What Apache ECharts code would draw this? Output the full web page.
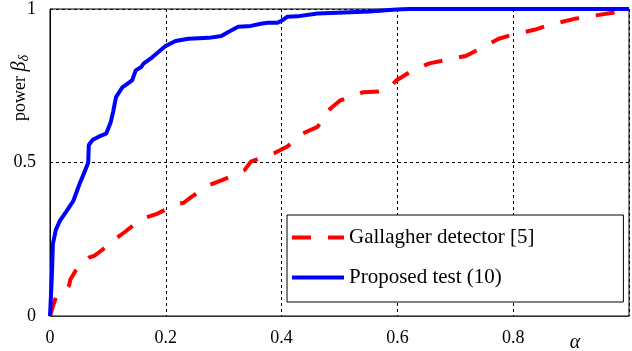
<!DOCTYPE html>
<html>
<head>
<meta charset="utf-8">
<script src="https://cdn.jsdelivr.net/npm/echarts@6/dist/echarts.min.js"></script>
<style>
  html, body { margin: 0; padding: 0; background: #fff; }
  #chart { width: 632px; height: 351px; }
</style>
</head>
<body>
<div id="chart"></div>
<script>
// 曲线数据 (alpha -> power)
const proposedAlpha = [0, 0.003, 0.005, 0.01, 0.017, 0.028, 0.04, 0.051, 0.062, 0.066, 0.067, 0.074, 0.085, 0.097, 0.105, 0.109, 0.114, 0.125, 0.137, 0.142, 0.148, 0.157, 0.162, 0.176, 0.2, 0.217, 0.239, 0.274, 0.296, 0.308, 0.325, 0.347, 0.364, 0.376, 0.393, 0.402, 0.41, 0.427, 0.462, 0.496, 0.552, 0.598, 0.62, 1];
const proposedPower = [0, 0.12, 0.235, 0.28, 0.31, 0.34, 0.374, 0.43, 0.48, 0.5, 0.557, 0.574, 0.585, 0.594, 0.632, 0.665, 0.713, 0.745, 0.761, 0.768, 0.8, 0.81, 0.823, 0.842, 0.88, 0.896, 0.903, 0.906, 0.912, 0.925, 0.942, 0.945, 0.952, 0.955, 0.955, 0.964, 0.975, 0.976, 0.985, 0.988, 0.992, 0.998, 1, 1];

const gallagherAlpha = [0, 0.003, 0.01, 0.017, 0.028, 0.033, 0.035, 0.045, 0.054, 0.068, 0.077, 0.09, 0.105, 0.128, 0.157, 0.185, 0.2, 0.217, 0.231, 0.242, 0.274, 0.296, 0.32, 0.336, 0.347, 0.387, 0.41, 0.436, 0.462, 0.484, 0.501, 0.541, 0.567, 0.585, 0.598, 0.621, 0.655, 0.684, 0.718, 0.741, 0.775, 0.8, 0.838, 0.866, 0.906, 0.932, 0.969, 0.991, 1];
const gallagherPower = [0, 0.02, 0.06, 0.078, 0.09, 0.1, 0.118, 0.15, 0.17, 0.191, 0.197, 0.215, 0.24, 0.272, 0.315, 0.333, 0.347, 0.363, 0.369, 0.385, 0.426, 0.442, 0.46, 0.475, 0.503, 0.53, 0.552, 0.594, 0.616, 0.675, 0.702, 0.729, 0.731, 0.74, 0.767, 0.794, 0.823, 0.834, 0.847, 0.869, 0.903, 0.917, 0.933, 0.95, 0.968, 0.976, 0.987, 0.993, 0.995];

const seriesNames = ['Gallagher detector [5]', 'Proposed test (10)'];
const xTickLabels = ['0', '0.2', '0.4', '0.6', '0.8'];
const yTickLabels = ['0', '0.5', '1'];

const FONT = 'Liberation Serif';

function zip(xs, ys) {
  return xs.map((x, i) => [x, ys[i]]);
}

const chart = echarts.init(document.getElementById('chart'));
const option = {
  animation: false,
  grid: {
    left: 50,
    right: -3,
    top: 6,
    bottom: 35,
    show: true,
    borderColor: '#000',
    borderWidth: 1
  },
  legend: {
    left: 287,
    top: 215,
    orient: 'vertical',
    data: seriesNames,
    itemWidth: 52,
    itemHeight: 20,
    itemGap: 19,
    padding: [12, 89, 14, 3],
    borderColor: '#000',
    borderWidth: 1,
    backgroundColor: '#fff',
    itemStyle: { opacity: 0, borderWidth: 0 }, // 只显示线段, 不显示圆点
    lineStyle: { width: 4 },
    textStyle: {
      fontFamily: FONT,
      fontSize: 21,
      color: '#000',
      padding: [7, 0, 0, 0]
    }
  },
  xAxis: {
    type: 'value',
    min: 0,
    max: 1,
    interval: 0.2,
    axisLine: { show: true, onZero: false, lineStyle: { color: '#333', width: 1 } },
    axisTick: { show: false },
    axisLabel: {
      margin: 13,
      fontFamily: FONT,
      fontSize: 18,
      color: '#000',
      formatter: function (v) {
        const i = Math.round(v / 0.2);
        return i < xTickLabels.length ? xTickLabels[i] : '';
      }
    },
    splitLine: { show: true, lineStyle: { color: '#000', width: 1, type: [3, 3] } }
  },
  yAxis: {
    type: 'value',
    min: 0,
    max: 1,
    interval: 0.5,
    axisLine: { show: true, lineStyle: { color: '#000', width: 1 } },
    axisTick: { show: false },
    axisLabel: {
      margin: 14,
      fontFamily: FONT,
      fontSize: 18,
      color: '#000',
      formatter: function (v) {
        return yTickLabels[Math.round(v / 0.5)];
      }
    },
    splitLine: { show: true, lineStyle: { color: '#000', width: 1, type: [3, 3] } }
  },
  graphic: [
    {
      type: 'text',
      x: 20,
      y: 88,
      rotation: Math.PI / 2,
      style: {
        text: 'power {b|β}{s|δ}',
        fontFamily: FONT,
        fontSize: 18,
        fill: '#000',
        align: 'center',
        verticalAlign: 'middle',
        rich: {
          b: { fontFamily: FONT, fontSize: 20, fontStyle: 'italic' },
          s: { fontFamily: FONT, fontSize: 14, fontStyle: 'italic', padding: [8, 0, 0, 0] }
        }
      }
    },
    {
      type: 'text',
      x: 575,
      y: 343,
      style: {
        text: 'α',
        fontFamily: FONT,
        fontSize: 20,
        fontStyle: 'italic',
        fill: '#000',
        align: 'center',
        verticalAlign: 'middle'
      }
    }
  ],
  series: [
    {
      name: seriesNames[0],
      type: 'line',
      symbol: 'none',
      data: zip(gallagherAlpha, gallagherPower),
      lineStyle: { color: '#ff0000', width: 4, type: [19, 17] },
      itemStyle: { color: '#ff0000' },
      z: 3
    },
    {
      name: seriesNames[1],
      type: 'line',
      symbol: 'none',
      data: zip(proposedAlpha, proposedPower),
      lineStyle: { color: '#0000ff', width: 4 },
      itemStyle: { color: '#0000ff' },
      z: 4
    }
  ]
};
chart.setOption(option);
</script>
</body>
</html>
